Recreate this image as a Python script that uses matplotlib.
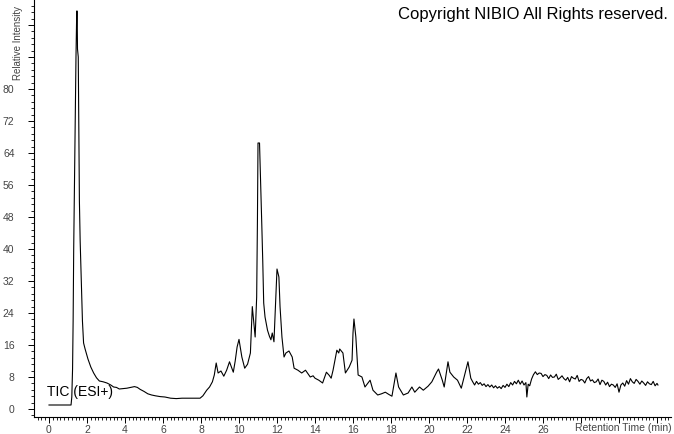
"""TIC (ESI+) chromatogram, relative intensity vs retention time."""
import matplotlib
matplotlib.use("Agg")
import matplotlib.pyplot as plt
from matplotlib.ticker import MultipleLocator, FixedLocator, FixedFormatter

plt.rcParams["font.family"] = ["Liberation Sans", "DejaVu Sans"]

# retention time (min) and relative intensity (%)
rt_main = [
    0.0, 1.16, 1.2, 1.24, 1.27, 1.3, 1.34, 1.38, 1.42, 1.46, 1.48, 1.5, 1.54, 1.56,
    1.58, 1.6, 1.64, 1.7, 1.76, 1.82, 1.9, 2.05, 2.2, 2.35, 2.5, 2.65, 2.85, 3.05,
    3.25, 3.4, 3.55, 3.7, 3.9, 4.1, 4.3, 4.5, 4.65, 4.8, 5.0, 5.2, 5.4, 5.6, 5.85,
    6.1, 6.4, 6.7, 7.0, 7.3, 7.6, 7.95, 8.1, 8.3, 8.45, 8.6, 8.7, 8.8, 8.9, 9.05,
    9.2, 9.35, 9.5, 9.6, 9.7, 9.8, 9.9, 10.0, 10.15, 10.3, 10.45, 10.6, 10.7, 10.8,
    10.85, 10.93, 10.97, 11.0, 11.08, 11.15, 11.2, 11.25, 11.3, 11.37, 11.5, 11.6,
    11.68, 11.75, 11.84, 11.95, 12.0, 12.1, 12.16, 12.26, 12.37, 12.47, 12.63, 12.8,
    12.9, 13.1, 13.3, 13.5, 13.75, 13.9, 14.0, 14.2, 14.4, 14.6, 14.75, 14.85, 14.95,
    15.15, 15.25, 15.3, 15.47, 15.6, 15.8, 15.95, 16.0, 16.05, 16.15, 16.27, 16.47,
    16.63, 16.9, 17.05, 17.3, 17.5, 17.7, 17.9, 18.05, 18.26, 18.4, 18.65, 18.9,
    19.1, 19.25, 19.5, 19.7, 19.95, 20.15, 20.4, 20.5, 20.7, 20.8, 21.0, 21.1, 21.3,
    21.5, 21.7, 21.85, 22.05, 22.2, 22.3, 22.4, 22.5, 22.6, 22.7, 22.8, 22.9, 23.0,
    23.1, 23.2, 23.3, 23.4, 23.5, 23.6, 23.7, 23.8, 23.9, 24.0, 24.1, 24.2, 24.3,
    24.4, 24.5, 24.6, 24.7, 24.8, 24.9, 25.0, 25.1, 25.15, 25.22, 25.3,
]
int_main = [
    1.0, 1.0, 3, 10, 22, 40, 55, 72, 88, 99.5, 99.5, 90, 88, 75,
    62, 52, 42, 32, 22, 16.5, 15, 12.5, 10.5, 9, 7.8, 7.0, 6.8, 6.5,
    6.0, 5.5, 5.4, 5.0, 5.1, 5.2, 5.4, 5.6, 5.4, 4.9, 4.4, 3.8, 3.5, 3.3, 3.1,
    3.0, 2.7, 2.6, 2.7, 2.7, 2.7, 2.7, 3.3, 4.7, 5.5, 6.8, 8.5, 11.5, 9.0, 9.5,
    8.2, 9.7, 11.8, 10.5, 9.2, 12, 15.5, 17.4, 13, 10.2, 11.2, 14, 25.6, 20.5,
    18, 28, 47, 66.5, 66.5, 55, 46, 37, 26.5, 23, 19.7, 18.2,
    17.3, 19, 16.8, 29, 35, 33, 25.6, 18, 13, 14, 14.5, 13,
    10.2, 9.7, 9, 9.7, 8, 8.3, 7.7, 7.2, 6.5, 9.2, 8.4, 7.7, 9.7,
    14.7, 14.0, 15, 14, 9, 10.5, 12.2, 19, 22.5, 18, 8.5, 8,
    5.5, 7.2, 4.7, 3.5, 3.8, 4.2, 3.6, 3.2, 9, 5.5, 3.5, 4.0,
    5.5, 4.2, 5.5, 4.7, 5.7, 6.8, 9.2, 10.0, 7.2, 5.5, 11.8, 9.2, 8,
    7.2, 5.2, 8, 11.8, 7.7, 6.8, 6.0, 6.9, 6.2, 6.6, 5.9, 6.3, 5.6,
    6.1, 5.5, 6.0, 5.3, 5.8, 5.2, 5.6, 5.1, 5.9, 5.4, 6.2, 5.6, 6.6,
    6.0, 6.9, 6.3, 7.2, 6.2, 7.0, 6.0, 6.6, 3.0, 6.2, 5.8,
]
# noisy tail after the 25 min step
rt_tail = [
    25.4, 25.5, 25.6, 25.7, 25.8, 25.9, 26.0, 26.1, 26.2, 26.3, 26.4, 26.5, 26.6,
    26.7, 26.8, 26.9, 27.0, 27.1, 27.2, 27.3, 27.4, 27.5, 27.6, 27.7, 27.8, 27.9,
    28.0, 28.1, 28.2, 28.3, 28.4, 28.5, 28.6, 28.7, 28.8, 28.9, 29.0, 29.1, 29.2,
    29.3, 29.4, 29.5, 29.6, 29.7, 29.8, 29.9, 30.0, 30.1, 30.2, 30.3, 30.4, 30.5,
    30.6, 30.7, 30.8, 30.9, 31.0, 31.1, 31.2, 31.3, 31.4, 31.5, 31.6, 31.7, 31.8,
    31.9, 32.0, 32.05,
]
int_tail = [
    7.5, 8.6, 9.3, 8.6, 9.0, 8.9, 8.1, 8.6, 8.4, 7.6, 8.5, 7.9, 8.0,
    8.7, 7.4, 7.8, 8.3, 7.6, 7.2, 7.9, 6.8, 8.1, 7.7, 7.5, 8.4, 6.9,
    7.4, 7.2, 6.5, 7.6, 8.1, 7.0, 7.3, 6.6, 6.8, 7.5, 6.1, 7.2, 6.9,
    6.0, 6.7, 5.6, 6.2, 6.0, 5.4, 6.3, 4.2, 6.0, 6.5, 5.7, 7.1, 6.2,
    7.6, 6.8, 6.4, 7.4, 6.9, 6.2, 7.0, 6.5, 5.9, 6.8, 6.3, 6.1, 6.9,
    5.8, 6.4, 6.0,
]

x_major = list(range(0, 34, 2))
x_labels = [str(v) if v <= 26 else "" for v in x_major]
y_major = list(range(0, 104, 8))
y_labels = [str(v) if v <= 80 else "" for v in y_major]

W, H = 674, 434
fig = plt.figure(figsize=(W / 100, H / 100), dpi=100)
ax = fig.add_axes([34 / W, 17 / H, (671 - 34) / W, 417 / H])

ax.plot(rt_main + rt_tail, int_main + int_tail, color="black", linewidth=0.8)

ax.set_xlim(-15 / 19, 622 / 19)
ax.set_ylim(-2, 102.25)

for side in ("top", "right"):
    ax.spines[side].set_visible(False)
for side in ("left", "bottom"):
    ax.spines[side].set_linewidth(0.8)

ax.xaxis.set_major_locator(FixedLocator(x_major))
ax.xaxis.set_major_formatter(FixedFormatter(x_labels))
ax.xaxis.set_minor_locator(MultipleLocator(0.2))
ax.yaxis.set_major_locator(FixedLocator(y_major))
ax.yaxis.set_major_formatter(FixedFormatter(y_labels))
ax.yaxis.set_minor_locator(MultipleLocator(1.6))

ax.tick_params(axis="x", which="major", length=4, width=0.7, pad=2,
               labelsize=7.5, labelcolor="#444444")
ax.tick_params(axis="x", which="minor", length=2.5, width=0.6)
ax.tick_params(axis="y", which="major", length=4, width=0.7, pad=10,
               labelsize=7.5, labelcolor="#444444")
ax.tick_params(axis="y", which="minor", length=2.5, width=0.6)

ax.text(-0.1, 4.2, "TIC (ESI+)", ha="left", va="center", fontsize=10)

fig.text(18 / W, 1 - 80 / H, "Relative Intensity", rotation=90,
         ha="center", va="bottom", fontsize=7, color="#444444")
fig.text(672 / W, 1 - 428 / H, "Retention Time (min)", ha="right",
         va="center", fontsize=7.5, color="#444444")
fig.text(668 / W, 1 - 15 / H, "Copyright NIBIO All Rights reserved.",
         ha="right", va="center", fontsize=12)

fig.savefig("out.png", dpi=100)
